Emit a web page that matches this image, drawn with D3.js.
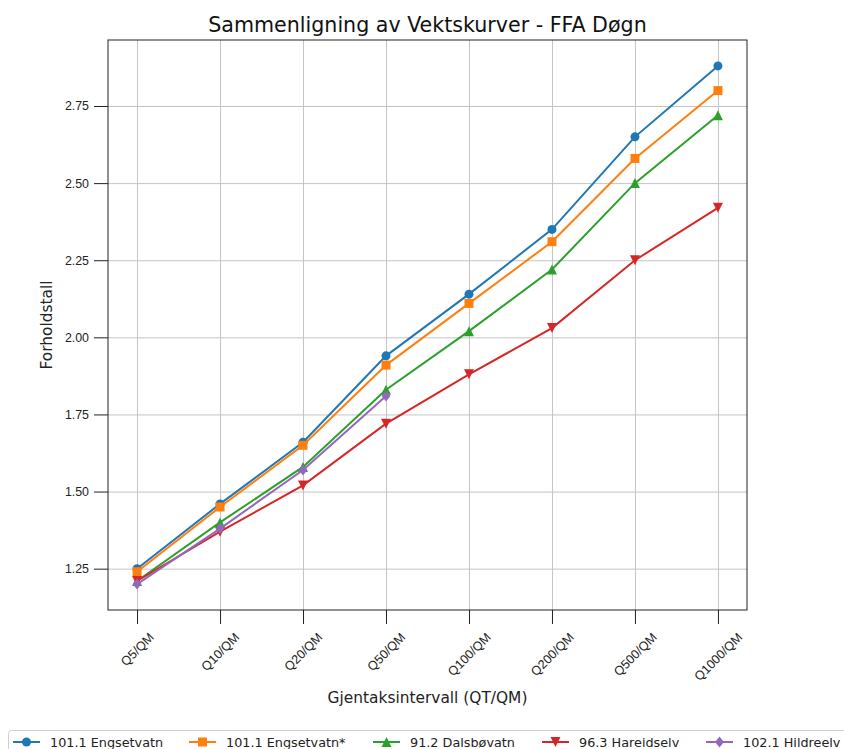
<!DOCTYPE html>
<html>
<head>
<meta charset="utf-8">
<script src="https://cdn.jsdelivr.net/npm/d3@7"></script>
<style>
  body { margin: 0; background: #fff; }
  svg { display: block; font-family: 'DejaVu Sans', sans-serif; }
  .grid line { stroke: #c4c4c4; stroke-width: 1; }
  .grid path { display: none; }
  .axis path, .axis line { stroke: #222; }
</style>
</head>
<body>
<svg id="chart" width="844" height="749"></svg>
<script>
// categories along the x axis
const categories = ['Q5/QM', 'Q10/QM', 'Q20/QM', 'Q50/QM', 'Q100/QM', 'Q200/QM', 'Q500/QM', 'Q1000/QM']

// series values (ratio)
const engsetvatn = [1.25, 1.46, 1.66, 1.94, 2.14, 2.35, 2.65, 2.88]
const engsetvatnStar = [1.24, 1.45, 1.65, 1.91, 2.11, 2.31, 2.58, 2.80]
const dalsbovatn = [1.21, 1.40, 1.58, 1.83, 2.02, 2.22, 2.50, 2.72]
const hareidselv = [1.21, 1.37, 1.52, 1.72, 1.88, 2.03, 2.25, 2.42]
const hildreelv = [1.20, 1.38, 1.57, 1.81]

const yTicks = [1.25, 1.50, 1.75, 2.00, 2.25, 2.50, 2.75]

const series = [
  { name: '101.1 Engsetvatn', values: engsetvatn, color: '#1f77b4', symbol: 'circle' },
  { name: '101.1 Engsetvatn*', values: engsetvatnStar, color: '#ff7f0e', symbol: 'square' },
  { name: '91.2 Dalsbøvatn', values: dalsbovatn, color: '#2ca02c', symbol: 'up' },
  { name: '96.3 Hareidselv', values: hareidselv, color: '#d62728', symbol: 'down' },
  { name: '102.1 Hildreelv', values: hildreelv, color: '#9467bd', symbol: 'diamond' }
]

const margin = { top: 40, right: 97, bottom: 139, left: 108 }
const width = 844 - margin.left - margin.right
const height = 749 - margin.top - margin.bottom

const svg = d3.select('#chart')
const g = svg.append('g').attr('transform', `translate(${margin.left},${margin.top})`)

// matplotlib-like 5% padding around the data
const allValues = series.flatMap(s => s.values)
const yMin = d3.min(allValues)
const yMax = d3.max(allValues)
const pad = (yMax - yMin) * 0.05

const xScale = d3.scalePoint().domain(categories).range([0, width]).padding(0.35)
const yScale = d3.scaleLinear().domain([yMin - pad, yMax + pad]).range([height, 0])

// grid
g.append('g')
  .attr('class', 'grid')
  .attr('transform', `translate(0,${height})`)
  .call(d3.axisBottom(xScale).tickSize(-height).tickFormat(''))
g.append('g')
  .attr('class', 'grid')
  .call(d3.axisLeft(yScale).tickValues(yTicks).tickSize(-width).tickFormat(''))

// axes
const xAxis = g.append('g')
  .attr('class', 'axis')
  .attr('transform', `translate(0,${height})`)
  .call(d3.axisBottom(xScale).tickSize(14).tickSizeOuter(0))
xAxis.select('.domain').remove()
// rotated 45 degrees, centred under the tick like matplotlib does
xAxis.selectAll('.tick text')
  .attr('font-size', 12.6)
  .attr('fill', '#222')
  .attr('text-anchor', 'middle')
  .attr('dominant-baseline', 'central')
  .attr('dy', null)
  .attr('y', 0)
  .attr('transform', function () {
    const w = this.getComputedTextLength()
    return `translate(0,${22 + (w + 9) * 0.354}) rotate(-45)`
  })

const yAxis = g.append('g')
  .attr('class', 'axis')
  .call(d3.axisLeft(yScale).tickValues(yTicks).tickFormat(d3.format('.2f')).tickSize(14).tickPadding(5).tickSizeOuter(0))
yAxis.select('.domain').remove()
yAxis.selectAll('.tick text')
  .attr('font-size', 12.4)
  .attr('fill', '#222')

// frame
g.append('rect')
  .attr('width', width)
  .attr('height', height)
  .attr('fill', 'none')
  .attr('stroke', '#222')
  .attr('stroke-width', 1)

function symbolPath (type, s) {
  if (type === 'circle') return d3.symbol(d3.symbolCircle, Math.PI * (s / 2) * (s / 2))()
  if (type === 'square') { const h = s / 2; return `M${-h},${-h}H${h}V${h}H${-h}Z` }
  if (type === 'up') { const h = s / 2 + 0.5; return `M0,${-h}L${h},${h}L${-h},${h}Z` }
  if (type === 'down') { const h = s / 2 + 0.5; return `M0,${h}L${h},${-h}L${-h},${-h}Z` }
  const h = s / 2 + 1
  return `M0,${-h}L${h * 0.8},0L0,${h}L${-h * 0.8},0Z`
}

const line = d3.line()
  .x((d, i) => xScale(categories[i]))
  .y(d => yScale(d))

series.forEach(s => {
  g.append('path')
    .datum(s.values)
    .attr('fill', 'none')
    .attr('stroke', s.color)
    .attr('stroke-width', 2)
    .attr('d', line)
  g.selectAll(null)
    .data(s.values)
    .enter()
    .append('path')
    .attr('transform', (d, i) => `translate(${xScale(categories[i])},${yScale(d)})`)
    .attr('d', symbolPath(s.symbol, 9))
    .attr('fill', s.color)
})

// title and axis labels
svg.append('text')
  .attr('x', margin.left + width / 2)
  .attr('y', 32)
  .attr('text-anchor', 'middle')
  .attr('font-size', 20.6)
  .attr('fill', '#111')
  .text('Sammenligning av Vektskurver - FFA Døgn')

svg.append('text')
  .attr('x', margin.left + width / 2)
  .attr('y', 703)
  .attr('text-anchor', 'middle')
  .attr('font-size', 15.4)
  .attr('fill', '#222')
  .text('Gjentaksintervall (QT/QM)')

svg.append('text')
  .attr('transform', `translate(52,${margin.top + height / 2}) rotate(-90)`)
  .attr('text-anchor', 'middle')
  .attr('font-size', 15.4)
  .attr('fill', '#222')
  .text('Forholdstall')

// legend
const legendX = [13, 189, 373, 542, 706]
const legend = svg.append('g')
legend.append('rect')
  .attr('x', 8.5)
  .attr('y', 730.5)
  .attr('width', 850)
  .attr('height', 40)
  .attr('rx', 3)
  .attr('fill', '#fff')
  .attr('stroke', '#d0d0d0')

series.forEach((s, i) => {
  const item = legend.append('g').attr('transform', `translate(${legendX[i]},742)`)
  item.append('line')
    .attr('x1', 0).attr('x2', 27)
    .attr('stroke', s.color)
    .attr('stroke-width', 2)
  item.append('path')
    .attr('transform', 'translate(13.5,0)')
    .attr('d', symbolPath(s.symbol, 9))
    .attr('fill', s.color)
  item.append('text')
    .attr('x', 37)
    .attr('y', 4.5)
    .attr('font-size', 12.8)
    .attr('fill', '#222')
    .text(s.name)
})
</script>
</body>
</html>
